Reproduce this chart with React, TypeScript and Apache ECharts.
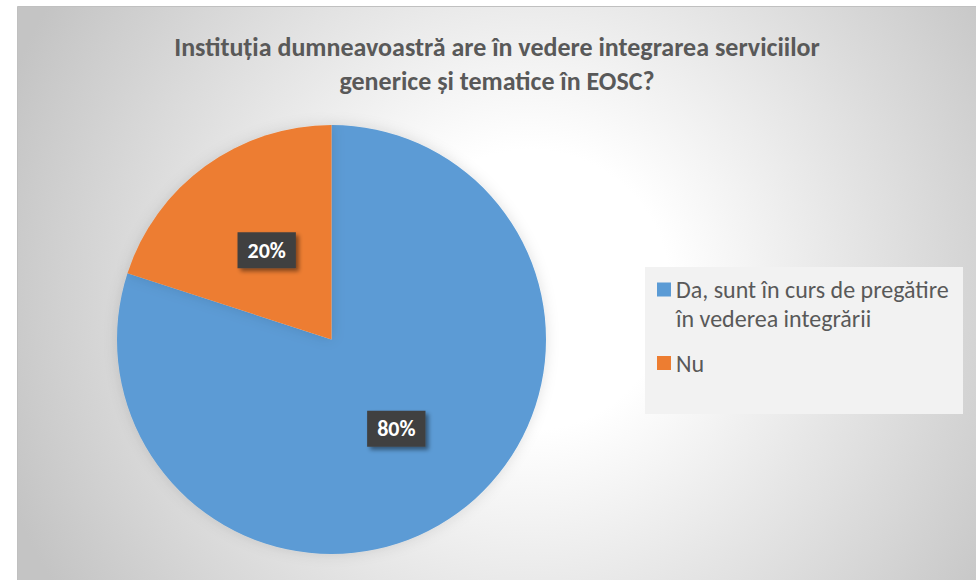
import React, { useEffect, useRef } from 'react';
import * as echarts from 'echarts';

const TITLE_LINES = [
  'Instituția dumneavoastră are în vedere integrarea serviciilor',
  'generice și tematice în EOSC?',
];
const CATEGORIES = ['Da, sunt în curs de pregătire în vederea integrării', 'Nu'];
const LEGEND_LINES = [['Da, sunt în curs de pregătire', 'în vederea integrării'], ['Nu']];
const VALUES = [80, 20];
const COLORS = ['#5B9BD5', '#ED7D31'];

const FONT = 'Carlito, Calibri, Lato, sans-serif';

export default function App() {
  const ref = useRef<HTMLDivElement>(null);

  useEffect(() => {
    if (!ref.current) return;
    const chart = echarts.init(ref.current, null, { renderer: 'svg' });
    const legendText = {
      fontFamily: FONT,
      fontSize: 24,
      color: '#595959',
      lineHeight: 29,
    };
    chart.setOption({
      animation: false,
      color: COLORS,
      title: {
        text: TITLE_LINES.join('\n'),
        left: 497,
        top: 29.5,
        padding: 0,
        textAlign: 'center',
        textStyle: {
          fontFamily: FONT,
          fontSize: 26,
          fontWeight: 'bold',
          color: '#595959',
          lineHeight: 34,
        },
      },
      graphic: [
        {
          type: 'rect',
          z: -10,
          shape: { x: 17.5, y: 6.5, width: 970, height: 590 },
          style: {
            fill: new echarts.graphic.RadialGradient(
              530,
              290,
              560,
              [
                { offset: 0, color: '#ffffff' },
                { offset: 0.25, color: '#ffffff' },
                { offset: 1, color: '#c4c4c4' },
              ],
              true
            ),
            stroke: '#c0c0c0',
            lineWidth: 1,
          },
        },
        {
          type: 'rect',
          z: -9,
          shape: { x: 645, y: 267, width: 318, height: 147 },
          style: { fill: '#f2f2f2' },
        },
      ],
      legend: [
        {
          data: [CATEGORIES[0]],
          orient: 'vertical',
          left: 657,
          top: 246,
          padding: 0,
          icon: 'rect',
          itemWidth: 14,
          itemHeight: 14,
          selectedMode: false,
          formatter: () => '\n' + LEGEND_LINES[0].join('\n'),
          textStyle: legendText,
        },
        {
          data: [CATEGORIES[1]],
          orient: 'vertical',
          left: 657,
          top: 348.5,
          padding: 0,
          icon: 'rect',
          itemWidth: 14,
          itemHeight: 14,
          selectedMode: false,
          formatter: () => LEGEND_LINES[1].join('\n'),
          textStyle: legendText,
        },
      ],
      series: [
        {
          type: 'pie',
          center: [331.5, 339.5],
          radius: [0, 214.5],
          startAngle: 90,
          clockwise: true,
          avoidLabelOverlap: false,
          data: CATEGORIES.map((name, i) => ({ name, value: VALUES[i] })),
          itemStyle: {
            shadowColor: 'rgba(0,0,0,0.12)',
            shadowBlur: 14,
          },
          label: {
            show: true,
            position: 'inside',
            formatter: (p: any) => `${Math.round(p.percent)}%`,
            fontFamily: FONT,
            fontSize: 22,
            lineHeight: 26,
            fontWeight: 'bold',
            color: '#ffffff',
            backgroundColor: '#404040',
            padding: [5, 10, 5, 10],
            shadowColor: 'rgba(0,0,0,0.45)',
            shadowBlur: 4,
            shadowOffsetX: 3,
            shadowOffsetY: 3,
          },
          labelLine: { show: false },
          emphasis: { disabled: true },
        },
      ],
    });
    return () => chart.dispose();
  }, []);

  return (
    <div
      ref={ref}
      style={{ position: 'fixed', left: 0, top: 0, width: 976, height: 580, background: '#ffffff' }}
    />
  );
}
